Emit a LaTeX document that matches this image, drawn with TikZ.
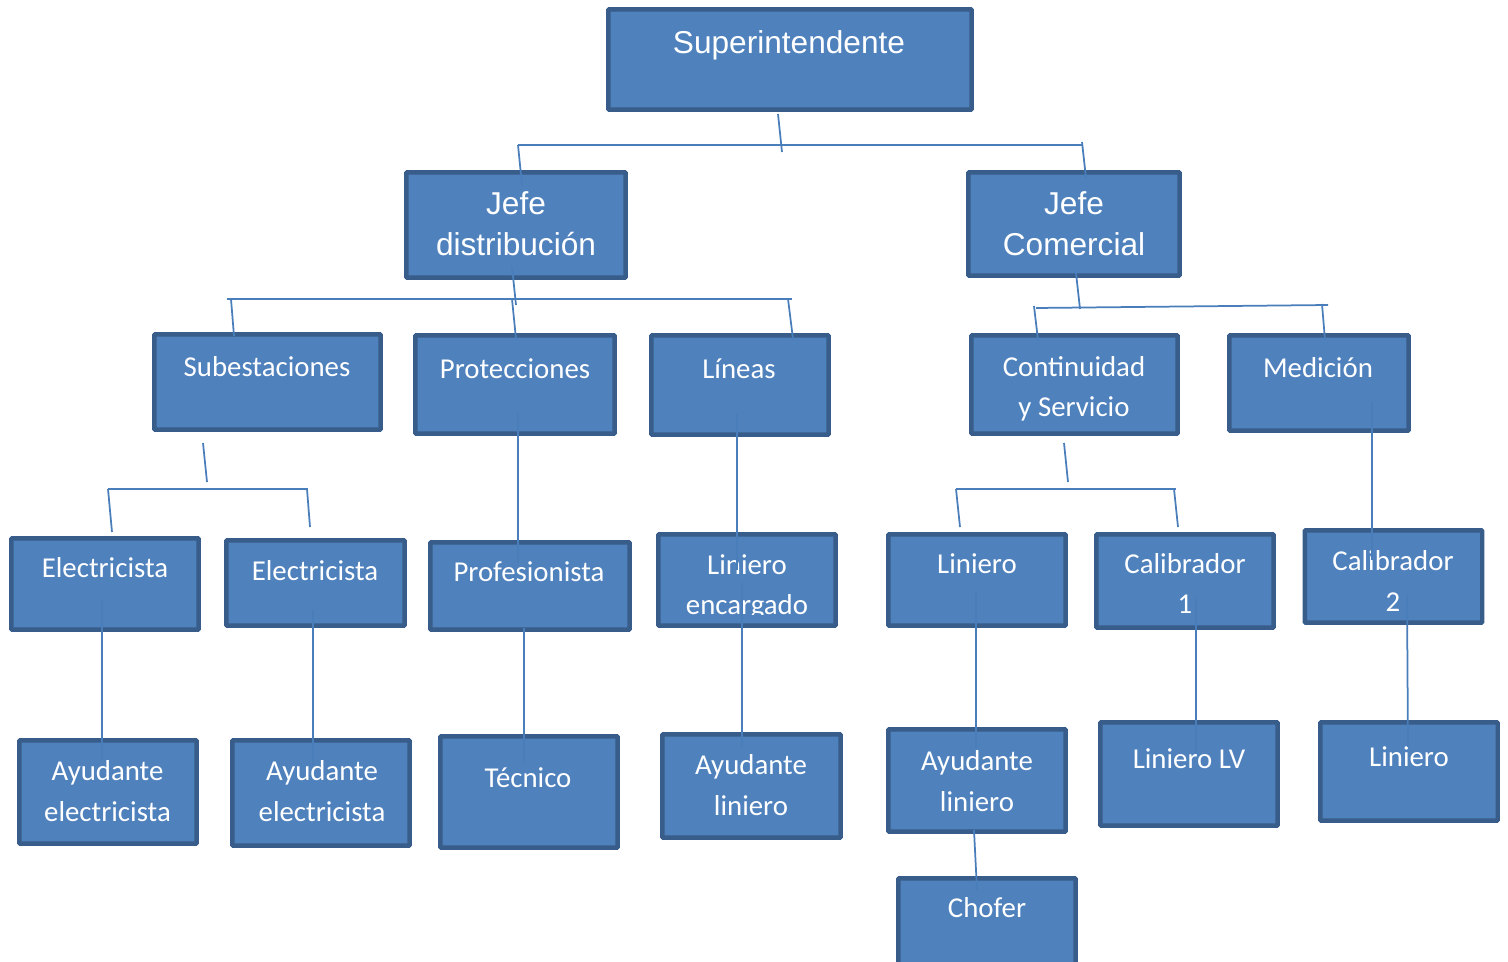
\documentclass[tikz,border=0pt]{standalone}
\usepackage{fontspec}
\newfontfamily\calibrifont{Carlito}
\newfontfamily\arialfont{Liberation Sans}
\definecolor{boxfill}{HTML}{4F81BD}
\definecolor{boxline}{HTML}{385D8A}
\definecolor{linkcol}{HTML}{4A7EBB}
\tikzset{
  orgbox/.style={draw=boxline, fill=boxfill, line width=0.09cm, rounded corners=0.6pt,
    inner sep=0pt, outer sep=0pt, minimum width=3.55cm},
  labc/.style={text=white, font=\calibrifont\fontsize{16.4}{23.3}\selectfont,
    anchor=base, align=center, inner sep=0pt},
  laba/.style={text=white, font=\arialfont\fontsize{18}{23.9}\selectfont,
    anchor=base, align=center, inner sep=0pt},
  link/.style={draw=linkcol, line width=0.035cm}
}
\begin{document}
\begin{tikzpicture}[x=0.02cm,y=-0.02cm]
    \path[use as bounding box, clip] (0,0) rectangle (1508,962);

    \node[orgbox, minimum width=7.27cm, minimum height=2.01cm] (sup) at (790,59.5) {};
    \node[orgbox, minimum width=4.39cm, minimum height=2.11cm] (jd) at (516,225) {};
    \node[orgbox, minimum width=4.23cm, minimum height=2.07cm] (jc) at (1074,224) {};

    \node[orgbox, minimum width=4.53cm, minimum height=1.91cm] (sub) at (267.5,382) {};
    \node[orgbox, minimum width=3.99cm, minimum height=1.97cm] (pro) at (515,384.5) {};
    \node[orgbox, minimum height=1.99cm] (lin) at (740,385) {};
    \node[orgbox, minimum width=4.13cm, minimum height=1.97cm] (con) at (1074.5,384.5) {};
    \node[orgbox, minimum width=3.59cm, minimum height=1.91cm] (med) at (1319,383) {};

    \node[orgbox, minimum width=3.75cm, minimum height=1.83cm] (el1) at (105,584) {};
    \node[orgbox, minimum width=3.57cm, minimum height=1.71cm] (el2) at (315.5,583) {};
    \node[orgbox, minimum width=3.99cm, minimum height=1.75cm] (prf) at (530,586) {};
    \node[orgbox, minimum height=1.83cm] (le) at (747,580) {};
    \node[orgbox, minimum height=1.83cm] (ln1) at (977,580) {};
    \node[orgbox, minimum height=1.87cm] (cb1) at (1185,581) {};
    \node[orgbox, minimum height=1.85cm] (cb2) at (1393.5,576.5) {};

    \node[orgbox, minimum height=2.07cm] (ay1) at (108,792) {};
    \node[orgbox, minimum height=2.11cm] (ay2) at (321,793) {};
    \node[orgbox, minimum height=2.23cm] (tec) at (529,792) {};
    \node[orgbox, minimum width=3.57cm, minimum height=2.07cm] (al1) at (751.5,786) {};
    \node[orgbox, minimum height=2.05cm] (al2) at (977,780.5) {};
    \node[orgbox, minimum height=2.07cm] (lv) at (1189,774) {};
    \node[orgbox, minimum height=1.97cm] (ln2) at (1409,771.5) {};
    \node[orgbox, minimum height=2.19cm] (cho) at (987,933) {};

    % texts (base = last line)
    \node[laba] (sup-t) at (789,54) {Superintendente};
    \node[laba] (jd-t) at (516,256) {Jefe\\distribución};
    \node[laba] (jc-t) at (1074,256) {Jefe\\Comercial};
    \node[labc] (sub-t) at (267,377) {Subestaciones};
    \node[labc] (pro-t) at (515,379) {Protecciones};
    \node[labc] (lin-t) at (739,379) {Líneas};
    \node[labc] (con-t) at (1074,417) {Continuidad\\y Servicio};
    \node[labc] (med-t) at (1318,378) {Medición};
    \node[labc] (el1-t) at (105,578) {Electricista};
    \node[labc] (el2-t) at (315,581) {Electricista};
    \node[labc] (prf-t) at (529,582) {Profesionista};
    \begin{scope}
      \clip (656,532) rectangle (838,614);
      \node[labc] (le-t) at (747,615) {Liniero\\encargado};
    \end{scope}
    \node[labc] (ln1-t) at (977,574) {Liniero};
    \node[labc] (cb1-t) at (1185,614) {Calibrador\\1};
    \node[labc] (cb2-t) at (1393,611) {Calibrador\\2};
    \node[labc] (ay1-t) at (107.5,821) {Ayudante\\electricista};
    \node[labc] (ay2-t) at (322,821) {Ayudante\\electricista};
    \node[labc] (tec-t) at (528,787) {Técnico};
    \node[labc] (al1-t) at (751,815) {Ayudante\\liniero};
    \node[labc] (al2-t) at (977,811) {Ayudante\\liniero};
    \node[labc] (lv-t) at (1189,768) {Liniero LV};
    \node[labc] (ln2-t) at (1409,766) {Liniero};
    \node[labc] (cho-t) at (987,917) {Chofer};

    % connector points
    \coordinate (sup-a) at (778,114); \coordinate (sup-b) at (782,152);
    \coordinate (b0-l) at (518,145); \coordinate (b0-r) at (1082,145);
    \coordinate (b0-t) at (1082,142);
    \coordinate (jd-in) at (522,185); \coordinate (jc-in) at (1086,178);

    \coordinate (jd-a) at (512,267); \coordinate (jd-b) at (516,305);
    \coordinate (b1-l) at (227,299); \coordinate (b1-r) at (792,299);
    \coordinate (b1-1) at (231,299); \coordinate (sub-in) at (234,336);
    \coordinate (b1-2) at (512,299); \coordinate (pro-in) at (516,339);
    \coordinate (b1-3) at (788,299); \coordinate (lin-in) at (793,339);

    \coordinate (jc-a) at (1076,273); \coordinate (jc-b) at (1080,309);
    \coordinate (b2-l) at (1036,308); \coordinate (b2-r) at (1328,305);
    \coordinate (b2-1) at (1034,306); \coordinate (con-in) at (1038,340);
    \coordinate (b2-2) at (1322,304); \coordinate (med-in) at (1325,340);

    \coordinate (sub-a) at (203,443); \coordinate (sub-b) at (207,482);
    \coordinate (b3-l) at (108,489); \coordinate (b3-r) at (308,489);
    \coordinate (b3-2) at (307,489);
    \coordinate (el1-in) at (112,532); \coordinate (el2-in) at (310,527);

    \coordinate (con-a) at (1064,443); \coordinate (con-b) at (1068,482);
    \coordinate (b4-l) at (956,489); \coordinate (b4-r) at (1176,489);
    \coordinate (b4-2) at (1174,489);
    \coordinate (ln1-in) at (960,527); \coordinate (cb1-in) at (1178,527);

    \coordinate (pro-a) at (518,413); \coordinate (prf-in) at (518,563);
    \coordinate (prf-a) at (524,628); \coordinate (tec-in) at (524,763);
    \coordinate (lin-a) at (737,414); \coordinate (le-in) at (737,570);
    \coordinate (le-a) at (742,583); \coordinate (al1-in) at (742,747);
    \coordinate (med-a) at (1372,402); \coordinate (cb2-in) at (1372,560);
    \coordinate (cb2-a) at (1407,595); \coordinate (ln2-in) at (1408,747);
    \coordinate (el1-a) at (102,600); \coordinate (ay1-in) at (102,760);
    \coordinate (el2-a) at (313,610); \coordinate (ay2-in) at (313,765);
    \coordinate (ln1-a) at (976,593); \coordinate (al2-in) at (976,748);
    \coordinate (al2-a) at (974,830); \coordinate (cho-in) at (977,890);
    \coordinate (cb1-a) at (1196,597); \coordinate (lv-in) at (1196,753);

    % connectors
    \draw[link] (sup-a) -- (sup-b);
    \draw[link] (b0-l) -- (b0-r);
    \draw[link] (b0-l) -- (jd-in);
    \draw[link] (b0-t) -- (jc-in);

    \draw[link] (jd-a) -- (jd-b);
    \draw[link] (b1-l) -- (b1-r);
    \draw[link] (b1-1) -- (sub-in);
    \draw[link] (b1-2) -- (pro-in);
    \draw[link] (b1-3) -- (lin-in);

    \draw[link] (jc-a) -- (jc-b);
    \draw[link] (b2-l) -- (b2-r);
    \draw[link] (b2-1) -- (con-in);
    \draw[link] (b2-2) -- (med-in);

    \draw[link] (sub-a) -- (sub-b);
    \draw[link] (b3-l) -- (b3-r);
    \draw[link] (b3-l) -- (el1-in);
    \draw[link] (b3-2) -- (el2-in);

    \draw[link] (con-a) -- (con-b);
    \draw[link] (b4-l) -- (b4-r);
    \draw[link] (b4-l) -- (ln1-in);
    \draw[link] (b4-2) -- (cb1-in);

    \draw[link] (pro-a) -- (prf-in);
    \draw[link] (prf-a) -- (tec-in);
    \draw[link] (lin-a) -- (le-in);
    \draw[link] (le-a) -- (al1-in);
    \draw[link] (med-a) -- (cb2-in);
    \draw[link] (cb2-a) -- (ln2-in);
    \draw[link] (el1-a) -- (ay1-in);
    \draw[link] (el2-a) -- (ay2-in);
    \draw[link] (ln1-a) -- (al2-in);
    \draw[link] (al2-a) -- (cho-in);
    \draw[link] (cb1-a) -- (lv-in);
\end{tikzpicture}
\end{document}
